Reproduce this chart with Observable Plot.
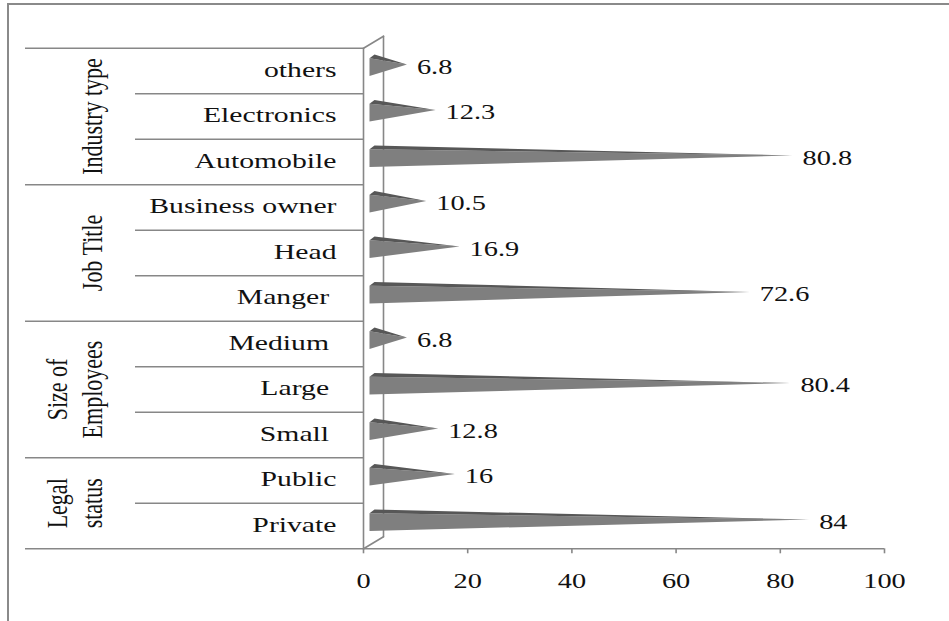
<!DOCTYPE html>
<html><head><meta charset="utf-8">
<script src="https://cdn.jsdelivr.net/npm/d3@7"></script>
<script src="https://cdn.jsdelivr.net/npm/@observablehq/plot@0.6"></script>
<style>
body{margin:0;background:#fff;}
#wrap{position:relative;width:949px;height:621px;overflow:hidden;background:#fff;}
#frame{position:absolute;left:7px;top:3px;right:-10px;bottom:-10px;border-left:2px solid #8a8a8a;border-top:2px solid #8a8a8a;}
#chart{position:absolute;left:0;top:0;}
#chart svg, #chart svg text{font-family:"Liberation Serif","Times New Roman","DejaVu Serif",serif !important;}
</style></head><body>
<div id="wrap"><div id="frame"></div><div id="chart"></div></div>
<script>
// ---- data (top row first) ----
const groups = ["Industry type", "Job Title", "Size of\nEmployees", "Legal\nstatus"];
const categories = ["others", "Electronics", "Automobile", "Business owner", "Head", "Manger\u00a0",
                    "Medium\u00a0", "Large\u00a0", "Small\u00a0", "Public", "Private"];
const categoryGroup = [0, 0, 0, 1, 1, 1, 2, 2, 2, 3, 3];
const values = [6.8, 12.3, 80.8, 10.5, 16.9, 72.6, 6.8, 80.4, 12.8, 16, 84];
const xTicks = [0, 20, 40, 60, 80, 100];

// ---- layout ----
const W = 949, H = 621, ML = 363, MR = 65, MT = 47.7, MB = 72.7;
const N = categories.length;
const K = (W - ML - MR) / 100;          // px per x unit
const ROW = (H - MT - MB) / N;          // px per row
const px = p => p / K;
const py = p => p / ROW;
const STRETCH = 1.35;
const LINE = "#878787";
const FONT = "'Liberation Serif', 'Times New Roman', serif";

const rows = categories.map((name, i) => ({name, value: values[i], group: categoryGroup[i], c: i + 0.5}));

// cones (front face and darker top face), derived from values
const coneFront = [], coneTop = [];
rows.forEach((r, i) => {
  const tip = r.value + px(8);
  coneFront.push({k: i, x: px(6), y: r.c - py(12.8)}, {k: i, x: tip, y: r.c - py(6.5)}, {k: i, x: px(6), y: r.c + py(5)});
  coneTop.push({k: i, x: px(6), y: r.c - py(12.8)}, {k: i, x: px(11), y: r.c - py(16.5)}, {k: i, x: tip, y: r.c - py(6.5)});
});

// table separators
const seps = [];
for (let k = 0; k <= N; k++) {
  const full = k === 0 || k === N || categoryGroup[k] !== categoryGroup[k - 1];
  seps.push({y: k, x1: full ? px(25 - ML) : px(135 - ML), x2: k === N ? 100 : 0});
}

// group labels
const groupLabels = [];
groups.forEach((g, gi) => {
  const idx = rows.filter(r => r.group === gi);
  const cy = d3.mean(idx, r => r.c);
  const lines = g.split("\n");
  lines.forEach((t, li) => groupLabels.push({t, y: cy, x: px(92 - ML - (lines.length - 1 - li) * 35)}));
});

// 3D wall outline
const D = px(20), E = py(12);
const wall = [
  {k: "back", x: D, y: -E}, {k: "back", x: D, y: N - E},
  {k: "top", x: 0, y: 0}, {k: "top", x: D, y: -E},
  {k: "bot", x: 0, y: N}, {k: "bot", x: D, y: N - E},
  {k: "front", x: 0, y: 0}, {k: "front", x: 0, y: N}
];

const plot = Plot.plot({
  width: W, height: H,
  marginLeft: ML, marginRight: MR, marginTop: MT, marginBottom: MB,
  x: {domain: [0, 100], axis: null},
  y: {domain: [0, N], reverse: true, axis: null},
  style: {fontFamily: FONT, background: "transparent", color: "#111"},
  marks: [
    Plot.ruleY(seps, {y: "y", x1: "x1", x2: "x2", stroke: LINE, strokeWidth: 1.6}),
    Plot.line(wall, {x: "x", y: "y", z: "k", stroke: LINE, strokeWidth: 1.6}),
    Plot.ruleX(xTicks, {x: d => d, y1: N, y2: N + py(5), stroke: LINE, strokeWidth: 1.6}),
    Plot.text(xTicks, {x: d => d, y: N, dy: 32, text: d => String(d), fontSize: 21, fontFamily: FONT, fill: "#111", lineAnchor: "middle"}),
    Plot.line(coneFront, {x: "x", y: "y", z: "k", fill: "#7f7f7f", stroke: "none", curve: "linear"}),
    Plot.line(coneTop, {x: "x", y: "y", z: "k", fill: "#575757", stroke: "none", curve: "linear"}),
    Plot.text(rows, {x: d => d.value + px(8), y: "c", dx: 10, dy: -4, text: d => String(d.value), textAnchor: "start", fontSize: 21, fontFamily: FONT, fill: "#111", lineAnchor: "middle"}),
    Plot.text(rows, {x: 0, y: "c", dx: 336 - ML, dy: -1.5, text: "name", textAnchor: "end", fontSize: 22, fontFamily: FONT, fill: "#111", lineAnchor: "middle"}),
    Plot.text(groupLabels, {x: "x", y: "y", text: "t", rotate: -90, fontSize: 22 * STRETCH, fontFamily: FONT, fill: "#111", lineAnchor: "middle"})
  ]
});
document.getElementById("chart").appendChild(plot);

// emulate the horizontally stretched look of the original picture
for (const t of plot.querySelectorAll("text")) {
  const len = t.getComputedTextLength();
  if (!len) continue;
  const tr = (t.getAttribute("transform") || "") + (t.parentNode.getAttribute("transform") || "");
  const rotated = /rotate/.test(tr);
  t.setAttribute("lengthAdjust", "spacingAndGlyphs");
  t.setAttribute("textLength", rotated ? len / STRETCH : len * STRETCH);
}
</script>
</body></html>
